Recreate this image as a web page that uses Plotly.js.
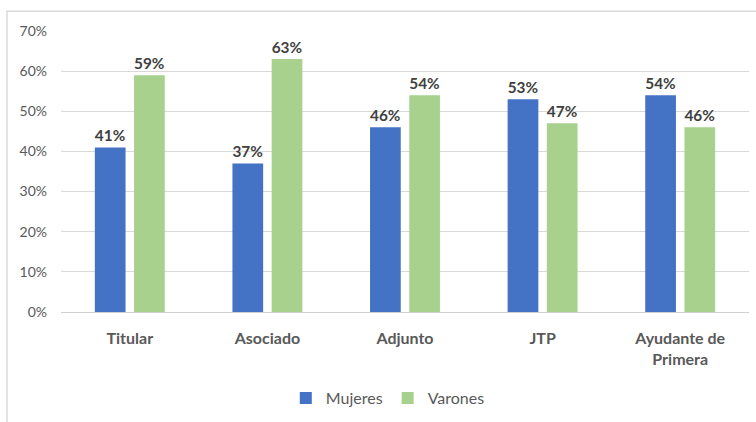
<!DOCTYPE html>
<html>
<head>
<meta charset="utf-8">
<script src="https://cdn.plot.ly/plotly-3.0.1.min.js"></script>
<style>
  html, body { margin: 0; padding: 0; background: #ffffff; }
  #chart { width: 756px; height: 422px; }
</style>
</head>
<body>
<div id="chart"></div>
<script>
// Categorías docentes y porcentajes por sexo
const categorias = ["Titular", "Asociado", "Adjunto", "JTP", "Ayudante de<br>Primera"];
const mujeres = [0.41, 0.37, 0.46, 0.53, 0.54];
const varones = [0.59, 0.63, 0.54, 0.47, 0.46];

const FONT = "Lato, Noto Sans, sans-serif";
const labelFont = { family: FONT, size: 15.5, color: "#404040", weight: "bold" };

const traces = [
  {
    type: "bar", name: "Mujeres", x: categorias, y: mujeres,
    marker: { color: "#4472C4" },
    texttemplate: "%{y:.0%}", textposition: "outside", textfont: labelFont,
    cliponaxis: false, hoverinfo: "skip"
  },
  {
    type: "bar", name: "Varones", x: categorias, y: varones,
    marker: { color: "#A9D18E" },
    texttemplate: "%{y:.0%}", textposition: "outside", textfont: labelFont,
    cliponaxis: false, hoverinfo: "skip"
  }
];

const layout = {
  width: 756, height: 422,
  margin: { l: 61, r: 7, t: 31, b: 104 },
  paper_bgcolor: "#ffffff", plot_bgcolor: "#ffffff",
  barmode: "group", bargap: 0.43, bargroupgap: 0.217,
  font: { family: FONT, color: "#595959" },
  xaxis: {
    automargin: false,
    tickfont: { family: FONT, size: 16, color: "#595959", weight: "bold" },
    showline: true, linecolor: "#d0d0d0", linewidth: 1,
    ticks: "", showgrid: false, ticklabelstandoff: 12
  },
  yaxis: {
    automargin: false,
    range: [0, 0.7], dtick: 0.1, tickformat: ".0%",
    tickfont: { family: FONT, size: 14, color: "#595959" },
    gridcolor: "#d9d9d9", gridwidth: 1, zeroline: false,
    showline: false, ticks: "", ticklabelstandoff: 13
  },
  showlegend: true,
  legend: {
    orientation: "h", x: 0.475, xanchor: "center", y: -0.306, yanchor: "middle",
    font: { family: FONT, size: 16, color: "#595959" }, itemwidth: 30, traceorder: "normal"
  },
  shapes: [{
    type: "rect", xref: "paper", yref: "paper",
    x0: -0.0785, x1: 1.05, y0: -0.45, y1: 1.07,
    line: { color: "#d9d9d9", width: 1.5 }, fillcolor: "rgba(0,0,0,0)", layer: "below"
  }]
};

Plotly.newPlot("chart", traces, layout, { displayModeBar: false, staticPlot: true });
</script>
</body>
</html>
